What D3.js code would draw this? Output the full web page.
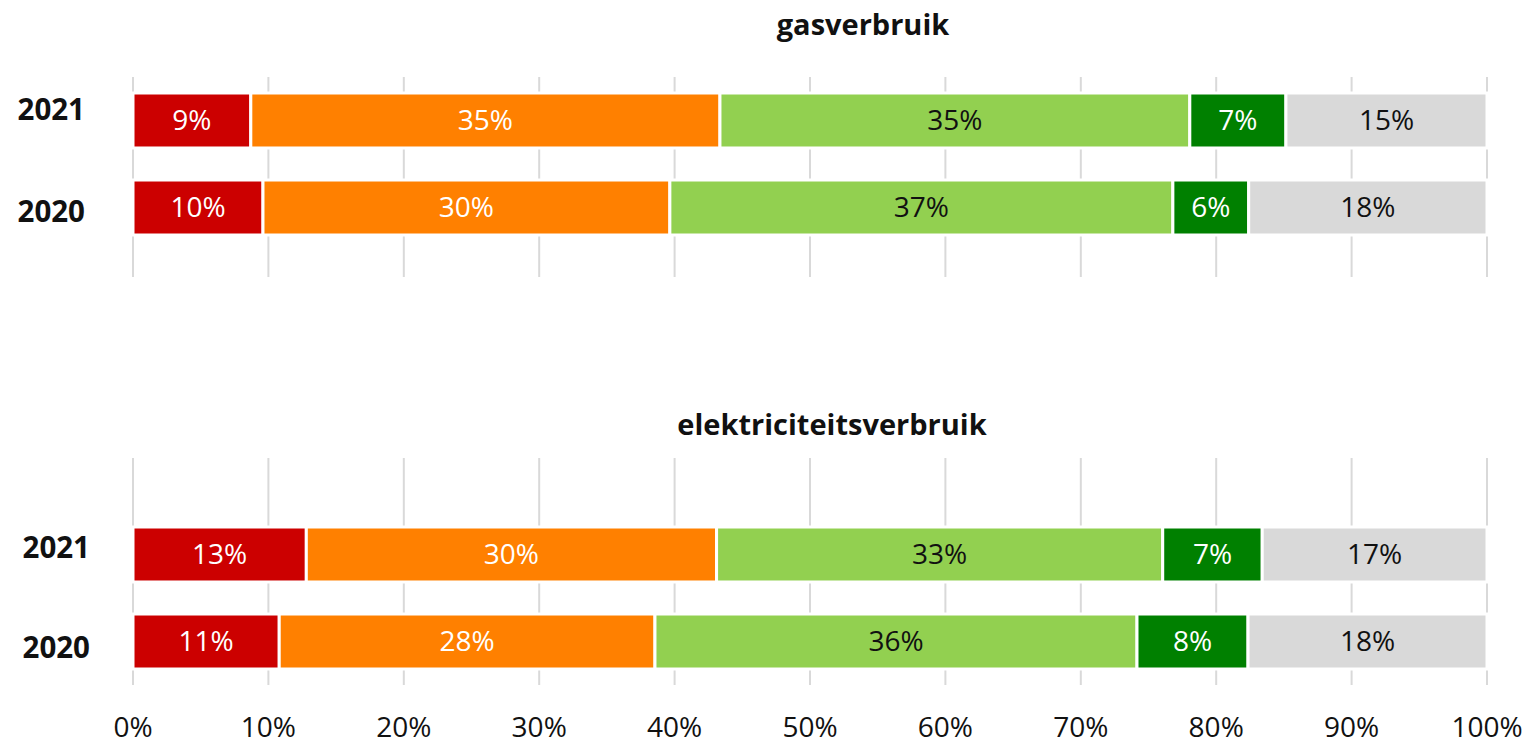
<!DOCTYPE html>
<html>
<head>
<meta charset="utf-8">
<script src="https://cdn.jsdelivr.net/npm/d3@7"></script>
<style>
  body { margin: 0; background: #fff; }
  text { font-family: "Open Sans", sans-serif; }
</style>
</head>
<body>
<div id="chart"></div>
<script>
const years = ['2021', '2020'];
const categories = ['c1', 'c2', 'c3', 'c4', 'c5'];
const colors = ['#cc0000', '#ff8000', '#92d050', '#008000', '#d9d9d9'];
const labelColors = ['#fff', '#fff', '#111', '#fff', '#111'];
const panelTitles = ['gasverbruik', 'elektriciteitsverbruik'];
// percentages per year (2021, 2020), in category order
const gasValues = [
    [8.7, 34.65, 34.7, 7.1, 14.85],
    [9.6, 30.05, 37.15, 5.6, 17.6]
];
const elecValues = [
    [12.8, 30.3, 32.95, 7.35, 16.6],
    [10.8, 27.75, 35.6, 8.2, 17.65]
];
const xTicks = [0, 10, 20, 30, 40, 50, 60, 70, 80, 90, 100];

const width = 1527, height = 743;
const svg = d3.select('#chart').append('svg')
    .attr('width', width)
    .attr('height', height);

const x = d3.scaleLinear().domain([0, 100]).range([133, 1487]);

const panels = [
    { title: panelTitles[0], values: gasValues, titleX: 863, titleY: 25, gridTop: 77, gridBottom: 277, barTop: 93, yearX: 85, yearRange: [110, 212] },
    { title: panelTitles[1], values: elecValues, titleX: 832, titleY: 425, gridTop: 458, gridBottom: 685, barTop: 527, yearX: 90, yearRange: [548, 648] }
];

panels.forEach(p => {
    const g = svg.append('g');
    const y = d3.scaleBand().domain(years).range([p.barTop, p.barTop + 142]).paddingInner(0.368);
    const yLabel = d3.scalePoint().domain(years).range(p.yearRange);

    g.append('text')
        .attr('x', p.titleX).attr('y', p.titleY)
        .attr('dy', '0.35em')
        .attr('text-anchor', 'middle')
        .style('font-size', '29px').style('font-weight', 'bold').style('fill', '#111')
        .text(p.title);

    g.selectAll('.grid').data(xTicks).enter().append('line')
        .attr('x1', d => x(d)).attr('x2', d => x(d))
        .attr('y1', p.gridTop).attr('y2', p.gridBottom)
        .attr('stroke', '#d9d9d9').attr('stroke-width', 2);

    years.forEach((yr, i) => {
        const vals = p.values[i];
        let cum = 0;
        const segs = vals.map((v, j) => {
            const s = { start: cum, end: cum + v, v, j };
            cum += v;
            return s;
        });
        const row = g.append('g');
        row.selectAll('rect').data(segs).enter().append('rect')
            .attr('x', d => x(d.start))
            .attr('width', d => x(d.end) - x(d.start))
            .attr('y', y(yr))
            .attr('height', y.bandwidth())
            .attr('fill', d => colors[d.j])
            .attr('stroke', '#fff').attr('stroke-width', 3);
        row.selectAll('text').data(segs).enter().append('text')
            .attr('x', d => (x(d.start) + x(d.end)) / 2)
            .attr('y', y(yr) + y.bandwidth() / 2)
            .attr('dy', '0.35em')
            .attr('text-anchor', 'middle')
            .style('font-size', '28px')
            .style('fill', d => labelColors[d.j])
            .text(d => Math.round(d.v) + '%');

        g.append('text')
            .attr('x', p.yearX).attr('y', yLabel(yr))
            .attr('dy', '0.35em')
            .attr('text-anchor', 'end')
            .style('font-size', '29.5px').style('font-weight', 'bold').style('fill', '#111')
            .text(yr);
    });
});

const axis = svg.append('g').attr('transform', 'translate(0,727)');
axis.selectAll('text').data(xTicks).enter().append('text')
    .attr('x', d => x(d))
    .attr('dy', '0.35em')
    .attr('text-anchor', 'middle')
    .style('font-size', '28px').style('fill', '#111')
    .text(d => d + '%');
</script>
</body>
</html>
